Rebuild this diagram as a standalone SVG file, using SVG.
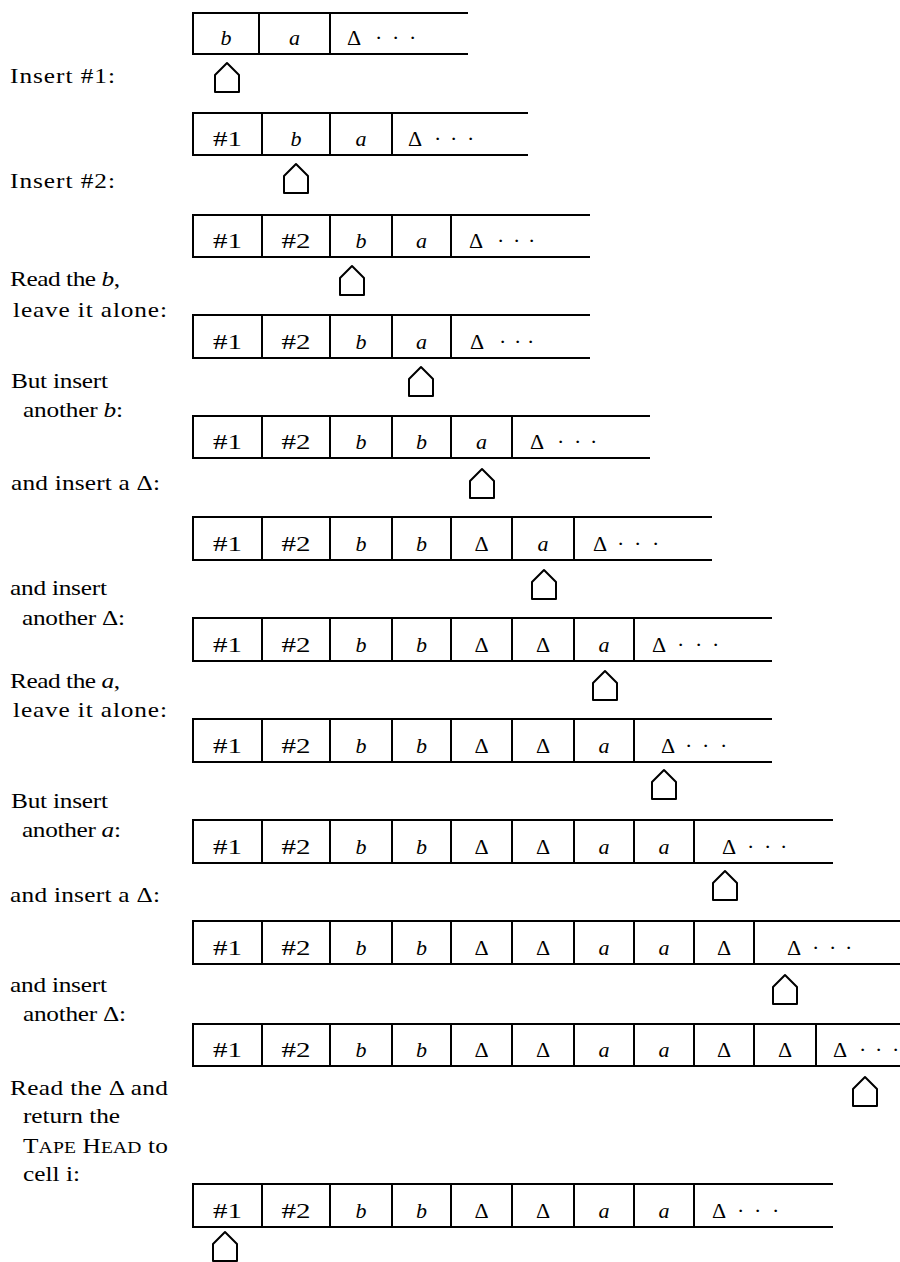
<svg xmlns="http://www.w3.org/2000/svg" xmlns:xlink="http://www.w3.org/1999/xlink" width="900" height="1262" viewBox="0 0 900 1262">
<style>
.t{fill:none;stroke:#000;stroke-width:2}
.h{fill:none;stroke:#000;stroke-width:2;stroke-linejoin:round}
.c{font-family:"Liberation Serif","Times New Roman",serif;font-size:22px;fill:#000;text-anchor:middle}
.n{font-family:"Liberation Serif","Times New Roman",serif;font-size:22px;fill:#000}
.i{font-style:italic}
.l{font-family:"Liberation Serif","Times New Roman",serif;font-size:22px;fill:#000}
</style>
<defs>
<path id="head" class="h" d="M-12,29 V12 L0,0 L12,12 V29 Z"/>
</defs>
<rect width="900" height="1262" fill="#fff"/>

<g id="labels" transform="scale(1.15,1)">
<text class="l" x="8.7" y="83" textLength="91.3" lengthAdjust="spacing">Insert #1:</text>
<text class="l" x="8.7" y="188" textLength="91.3" lengthAdjust="spacing">Insert #2:</text>
<text class="l" x="8.7" y="286" textLength="95.7" lengthAdjust="spacing">Read the <tspan class="i">b</tspan>,</text>
<text class="l" x="11.3" y="317" textLength="133.9" lengthAdjust="spacing">leave it alone:</text>
<text class="l" x="9.6" y="388" textLength="84.3" lengthAdjust="spacing">But insert</text>
<text class="l" x="20" y="417" textLength="87" lengthAdjust="spacing">another <tspan class="i">b</tspan>:</text>
<text class="l" x="9.6" y="490" textLength="129.6" lengthAdjust="spacing">and insert a Δ:</text>
<text class="l" x="8.7" y="595" textLength="84.3" lengthAdjust="spacing">and insert</text>
<text class="l" x="19.1" y="625" textLength="89.6" lengthAdjust="spacing">another Δ:</text>
<text class="l" x="8.7" y="688" textLength="95.7" lengthAdjust="spacing">Read the <tspan class="i">a</tspan>,</text>
<text class="l" x="11.3" y="717" textLength="133.9" lengthAdjust="spacing">leave it alone:</text>
<text class="l" x="9.6" y="808" textLength="84.3" lengthAdjust="spacing">But insert</text>
<text class="l" x="19.1" y="837" textLength="86.1" lengthAdjust="spacing">another <tspan class="i">a</tspan>:</text>
<text class="l" x="8.7" y="902" textLength="130.4" lengthAdjust="spacing">and insert a Δ:</text>
<text class="l" x="8.7" y="992" textLength="84.3" lengthAdjust="spacing">and insert</text>
<text class="l" x="20" y="1021" textLength="89.6" lengthAdjust="spacing">another Δ:</text>
<text class="l" x="8.7" y="1095" textLength="137.4" lengthAdjust="spacing">Read the Δ and</text>
<text class="l" x="20" y="1123" textLength="84.3" lengthAdjust="spacing">return the</text>
<text class="l" x="20" y="1153" textLength="126" lengthAdjust="spacing">T<tspan font-size="17">APE</tspan> H<tspan font-size="17">EAD</tspan> to</text>
<text class="l" x="20" y="1181" textLength="49.6" lengthAdjust="spacing">cell i:</text>
</g>

<g id="tape1">
<path class="t" d="M468,13 H193 V54 H468 M259,13 V54 M330,13 V54"/>
<text class="c i" x="226" y="45">b</text>
<text class="c i" x="294.5" y="45">a</text>
<text class="n" x="347" y="45">Δ <tspan x="375">·</tspan> <tspan x="392">·</tspan> <tspan x="409">·</tspan></text>
</g>
<g id="tape2">
<path class="t" d="M528,113 H193 V155 H528 M262,113 V155 M330,113 V155 M392,113 V155"/>
<text class="n" x="213" y="146" textLength="29" lengthAdjust="spacingAndGlyphs">#1</text>
<text class="c i" x="296" y="146">b</text>
<text class="c i" x="361" y="146">a</text>
<text class="n" x="408" y="146">Δ <tspan x="434">·</tspan> <tspan x="450">·</tspan> <tspan x="467">·</tspan></text>
</g>
<g id="tape3">
<path class="t" d="M590,215 H193 V257 H590 M262,215 V257 M330,215 V257 M392,215 V257 M451,215 V257"/>
<text class="n" x="213" y="248" textLength="29" lengthAdjust="spacingAndGlyphs">#1</text>
<text class="n" x="281.5" y="248" textLength="29" lengthAdjust="spacingAndGlyphs">#2</text>
<text class="c i" x="361" y="248">b</text>
<text class="c i" x="421.5" y="248">a</text>
<text class="n" x="469" y="248">Δ <tspan x="497">·</tspan> <tspan x="513">·</tspan> <tspan x="528">·</tspan></text>
</g>
<g id="tape4">
<path class="t" d="M590,315 H193 V358 H590 M262,315 V358 M330,315 V358 M392,315 V358 M451,315 V358"/>
<text class="n" x="213" y="349" textLength="29" lengthAdjust="spacingAndGlyphs">#1</text>
<text class="n" x="281.5" y="349" textLength="29" lengthAdjust="spacingAndGlyphs">#2</text>
<text class="c i" x="361" y="349">b</text>
<text class="c i" x="421.5" y="349">a</text>
<text class="n" x="470" y="349">Δ <tspan x="499">·</tspan> <tspan x="514">·</tspan> <tspan x="527">·</tspan></text>
</g>
<g id="tape5">
<path class="t" d="M650,416 H193 V458 H650 M262,416 V458 M330,416 V458 M392,416 V458 M451,416 V458 M512,416 V458"/>
<text class="n" x="213" y="449" textLength="29" lengthAdjust="spacingAndGlyphs">#1</text>
<text class="n" x="281.5" y="449" textLength="29" lengthAdjust="spacingAndGlyphs">#2</text>
<text class="c i" x="361" y="449">b</text>
<text class="c i" x="421.5" y="449">b</text>
<text class="c i" x="481.5" y="449">a</text>
<text class="n" x="530" y="449">Δ <tspan x="557">·</tspan> <tspan x="574">·</tspan> <tspan x="590">·</tspan></text>
</g>
<g id="tape6">
<path class="t" d="M712,517 H193 V560 H712 M262,517 V560 M330,517 V560 M392,517 V560 M451,517 V560 M512,517 V560 M574,517 V560"/>
<text class="n" x="213" y="551" textLength="29" lengthAdjust="spacingAndGlyphs">#1</text>
<text class="n" x="281.5" y="551" textLength="29" lengthAdjust="spacingAndGlyphs">#2</text>
<text class="c i" x="361" y="551">b</text>
<text class="c i" x="421.5" y="551">b</text>
<text class="c" x="481.5" y="551">Δ</text>
<text class="c i" x="543" y="551">a</text>
<text class="n" x="593" y="551">Δ <tspan x="617">·</tspan> <tspan x="634">·</tspan> <tspan x="652">·</tspan></text>
</g>
<g id="tape7">
<path class="t" d="M772,618 H193 V661 H772 M262,618 V661 M330,618 V661 M392,618 V661 M451,618 V661 M512,618 V661 M574,618 V661 M634,618 V661"/>
<text class="n" x="213" y="652" textLength="29" lengthAdjust="spacingAndGlyphs">#1</text>
<text class="n" x="281.5" y="652" textLength="29" lengthAdjust="spacingAndGlyphs">#2</text>
<text class="c i" x="361" y="652">b</text>
<text class="c i" x="421.5" y="652">b</text>
<text class="c" x="481.5" y="652">Δ</text>
<text class="c" x="543" y="652">Δ</text>
<text class="c i" x="604" y="652">a</text>
<text class="n" x="652" y="652">Δ <tspan x="677">·</tspan> <tspan x="695">·</tspan> <tspan x="712">·</tspan></text>
</g>
<g id="tape8">
<path class="t" d="M772,719 H193 V762 H772 M262,719 V762 M330,719 V762 M392,719 V762 M451,719 V762 M512,719 V762 M574,719 V762 M634,719 V762"/>
<text class="n" x="213" y="753" textLength="29" lengthAdjust="spacingAndGlyphs">#1</text>
<text class="n" x="281.5" y="753" textLength="29" lengthAdjust="spacingAndGlyphs">#2</text>
<text class="c i" x="361" y="753">b</text>
<text class="c i" x="421.5" y="753">b</text>
<text class="c" x="481.5" y="753">Δ</text>
<text class="c" x="543" y="753">Δ</text>
<text class="c i" x="604" y="753">a</text>
<text class="n" x="661" y="753">Δ <tspan x="685">·</tspan> <tspan x="702">·</tspan> <tspan x="720">·</tspan></text>
</g>
<g id="tape9">
<path class="t" d="M833,820 H193 V863 H833 M262,820 V863 M330,820 V863 M392,820 V863 M451,820 V863 M512,820 V863 M574,820 V863 M634,820 V863 M694,820 V863"/>
<text class="n" x="213" y="854" textLength="29" lengthAdjust="spacingAndGlyphs">#1</text>
<text class="n" x="281.5" y="854" textLength="29" lengthAdjust="spacingAndGlyphs">#2</text>
<text class="c i" x="361" y="854">b</text>
<text class="c i" x="421.5" y="854">b</text>
<text class="c" x="481.5" y="854">Δ</text>
<text class="c" x="543" y="854">Δ</text>
<text class="c i" x="604" y="854">a</text>
<text class="c i" x="664" y="854">a</text>
<text class="n" x="722" y="854">Δ <tspan x="747">·</tspan> <tspan x="764">·</tspan> <tspan x="780">·</tspan></text>
</g>
<g id="tape10">
<path class="t" d="M900,921 H193 V964 H900 M262,921 V964 M330,921 V964 M392,921 V964 M451,921 V964 M512,921 V964 M574,921 V964 M634,921 V964 M694,921 V964 M754,921 V964"/>
<text class="n" x="213" y="955" textLength="29" lengthAdjust="spacingAndGlyphs">#1</text>
<text class="n" x="281.5" y="955" textLength="29" lengthAdjust="spacingAndGlyphs">#2</text>
<text class="c i" x="361" y="955">b</text>
<text class="c i" x="421.5" y="955">b</text>
<text class="c" x="481.5" y="955">Δ</text>
<text class="c" x="543" y="955">Δ</text>
<text class="c i" x="604" y="955">a</text>
<text class="c i" x="664" y="955">a</text>
<text class="c" x="724" y="955">Δ</text>
<text class="n" x="787" y="955">Δ <tspan x="812">·</tspan> <tspan x="829">·</tspan> <tspan x="845">·</tspan></text>
</g>
<g id="tape11">
<path class="t" d="M900,1024 H193 V1066 H900 M262,1024 V1066 M330,1024 V1066 M392,1024 V1066 M451,1024 V1066 M512,1024 V1066 M574,1024 V1066 M634,1024 V1066 M694,1024 V1066 M754,1024 V1066 M816,1024 V1066"/>
<text class="n" x="213" y="1057" textLength="29" lengthAdjust="spacingAndGlyphs">#1</text>
<text class="n" x="281.5" y="1057" textLength="29" lengthAdjust="spacingAndGlyphs">#2</text>
<text class="c i" x="361" y="1057">b</text>
<text class="c i" x="421.5" y="1057">b</text>
<text class="c" x="481.5" y="1057">Δ</text>
<text class="c" x="543" y="1057">Δ</text>
<text class="c i" x="604" y="1057">a</text>
<text class="c i" x="664" y="1057">a</text>
<text class="c" x="724" y="1057">Δ</text>
<text class="c" x="785" y="1057">Δ</text>
<text class="n" x="833" y="1057">Δ <tspan x="859">·</tspan> <tspan x="875">·</tspan> <tspan x="892">·</tspan></text>
</g>
<g id="tape12">
<path class="t" d="M833,1184 H193 V1227 H833 M262,1184 V1227 M330,1184 V1227 M392,1184 V1227 M451,1184 V1227 M512,1184 V1227 M574,1184 V1227 M634,1184 V1227 M694,1184 V1227"/>
<text class="n" x="213" y="1218" textLength="29" lengthAdjust="spacingAndGlyphs">#1</text>
<text class="n" x="281.5" y="1218" textLength="29" lengthAdjust="spacingAndGlyphs">#2</text>
<text class="c i" x="361" y="1218">b</text>
<text class="c i" x="421.5" y="1218">b</text>
<text class="c" x="481.5" y="1218">Δ</text>
<text class="c" x="543" y="1218">Δ</text>
<text class="c i" x="604" y="1218">a</text>
<text class="c i" x="664" y="1218">a</text>
<text class="n" x="712" y="1218">Δ <tspan x="737">·</tspan> <tspan x="754">·</tspan> <tspan x="772">·</tspan></text>
</g>

<g id="head1"><use xlink:href="#head" x="227" y="63"/></g>
<g id="head2"><use xlink:href="#head" x="296" y="164"/></g>
<g id="head3"><use xlink:href="#head" x="352" y="266"/></g>
<g id="head4"><use xlink:href="#head" x="421" y="367"/></g>
<g id="head5"><use xlink:href="#head" x="482" y="469"/></g>
<g id="head6"><use xlink:href="#head" x="544" y="570"/></g>
<g id="head7"><use xlink:href="#head" x="605" y="671"/></g>
<g id="head8"><use xlink:href="#head" x="664" y="770"/></g>
<g id="head9"><use xlink:href="#head" x="725" y="871"/></g>
<g id="head10"><use xlink:href="#head" x="785" y="975"/></g>
<g id="head11"><use xlink:href="#head" x="865" y="1077"/></g>
<g id="head12"><use xlink:href="#head" x="225" y="1232"/></g>
</svg>
